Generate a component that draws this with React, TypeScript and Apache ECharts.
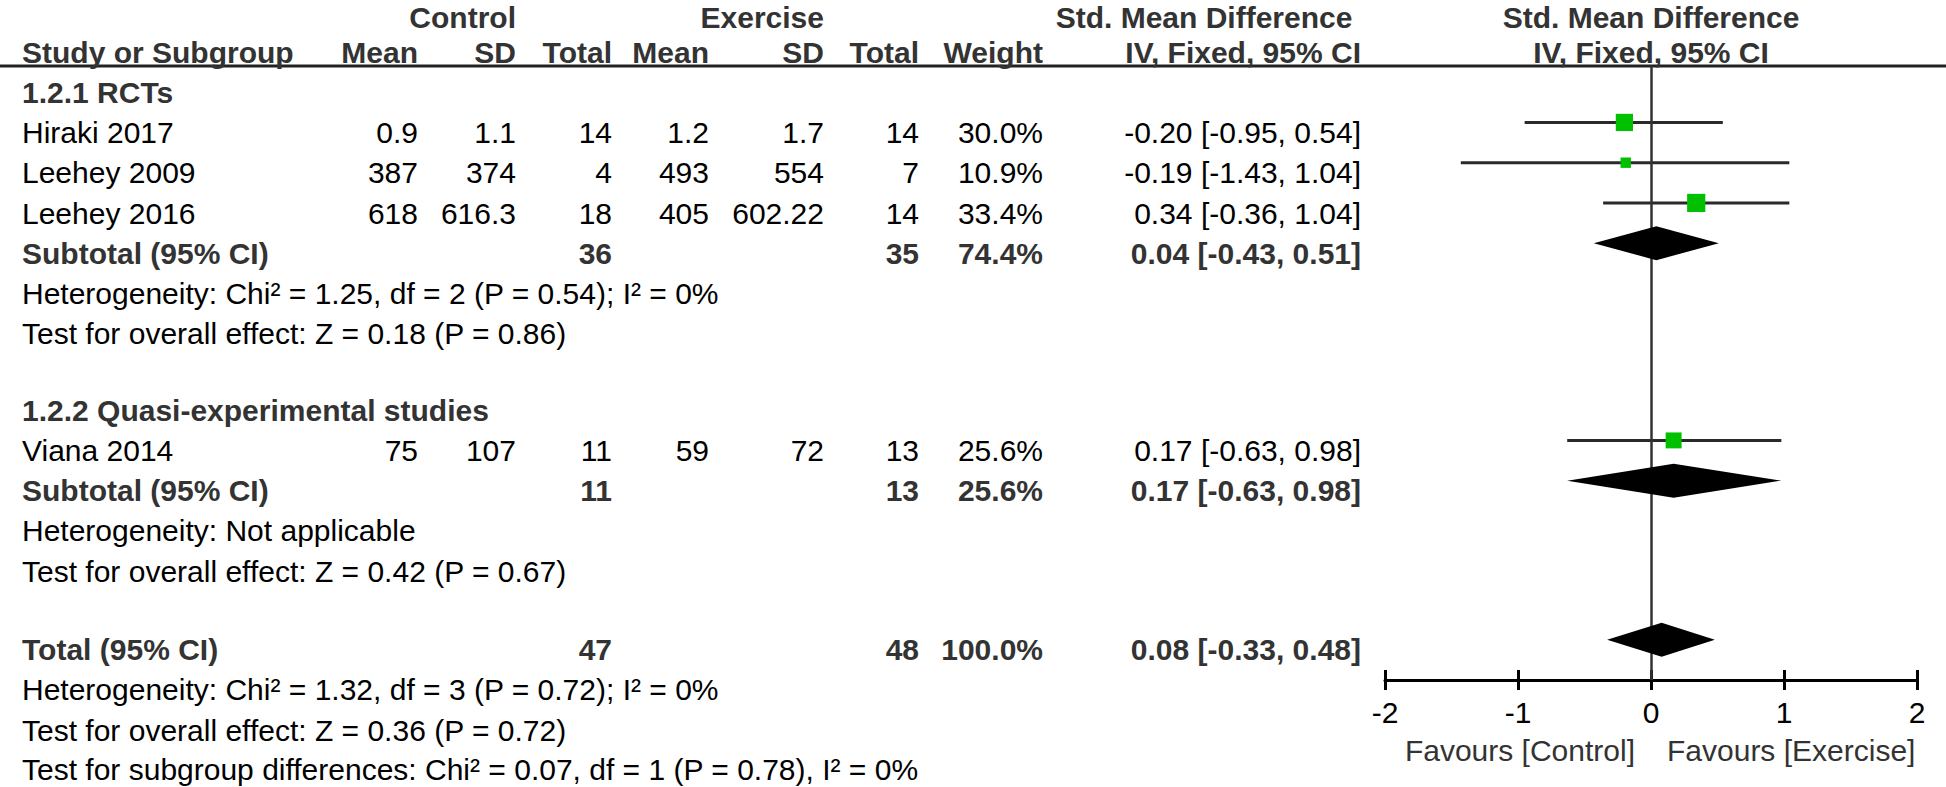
import React, { useEffect, useRef } from "react";
import * as echarts from "echarts";

// ---------------- data ----------------
const studies = ["Hiraki 2017", "Leehey 2009", "Leehey 2016", "Viana 2014"];
const ctrlMean = ["0.9", "387", "618", "75"];
const ctrlSD = ["1.1", "374", "616.3", "107"];
const ctrlN = [14, 4, 18, 11];
const exMean = ["1.2", "493", "405", "59"];
const exSD = ["1.7", "554", "602.22", "72"];
const exN = [14, 7, 14, 13];
const weights = [30.0, 10.9, 33.4, 25.6];
const smd = [-0.2, -0.19, 0.34, 0.17];
const ciLow = [-0.95, -1.43, -0.36, -0.63];
const ciHigh = [0.54, 1.04, 1.04, 0.98];

const pooledNames = ["Subtotal (95% CI)", "Subtotal (95% CI)", "Total (95% CI)"];
const pooledCtrlN = [36, 11, 47];
const pooledExN = [35, 13, 48];
const pooledWeight = [74.4, 25.6, 100.0];
const pooledSmd = [0.04, 0.17, 0.08];
const pooledLow = [-0.43, -0.63, -0.33];
const pooledHigh = [0.51, 0.98, 0.48];

const groupTitles = ["1.2.1 RCTs", "1.2.2 Quasi-experimental studies"];
const notes = [
  "Heterogeneity: Chi² = 1.25, df = 2 (P = 0.54); I² = 0%",
  "Test for overall effect: Z = 0.18 (P = 0.86)",
  "Heterogeneity: Not applicable",
  "Test for overall effect: Z = 0.42 (P = 0.67)",
  "Heterogeneity: Chi² = 1.32, df = 3 (P = 0.72); I² = 0%",
  "Test for overall effect: Z = 0.36 (P = 0.72)",
  "Test for subgroup differences: Chi² = 0.07, df = 1 (P = 0.78), I² = 0%",
];
const topHeaders = ["Control", "Exercise", "Std. Mean Difference", "Std. Mean Difference"];
const colHeaders = ["Study or Subgroup", "Mean", "SD", "Total", "Mean", "SD", "Total", "Weight", "IV, Fixed, 95% CI", "IV, Fixed, 95% CI"];
const axisMin = -2;
const axisMax = 2;
const axisStep = 1;
const favours = ["Favours [Control]", "Favours [Exercise]"];

// ---------------- layout ----------------
const W = 1946;
const H = 787;
const P = 40.25; // line pitch (px)
const Y0 = 52; // pixel of row 0
const FONT = '"Liberation Sans", Arial, Helvetica, sans-serif';
const FS = 30;
const rowTop = -0.86;
const rowHead = 0;
const titleRows = [1, 8.9];
const studyRows = [2, 3, 4, 9.9];
const pooledRows = [5, 10.9, 14.85];
const noteRows = [6, 7, 11.9, 12.9, 15.85, 16.85, 17.82];
const favoursRow = 17.35;
const markShift = -0.25;
const cols = [22, 418, 516, 612, 709, 824, 919, 1043, 1361];
const topCols = [516, 824, 1204];
const plotLeft = 1385;
const plotWidth = 532;
const plotTop = 66;
const plotBottom = 680;
const plotCenter = plotLeft + plotWidth / 2;

type T = { x: number; row: number; text: string; align: string; bold?: boolean; color?: string };

function buildTexts(): T[] {
  const it: T[] = [];
  const B = "#333";
  it.push({ x: topCols[0], row: rowTop, text: topHeaders[0], align: "right", bold: true, color: B });
  it.push({ x: topCols[1], row: rowTop, text: topHeaders[1], align: "right", bold: true, color: B });
  it.push({ x: topCols[2], row: rowTop, text: topHeaders[2], align: "center", bold: true, color: B });
  it.push({ x: plotCenter, row: rowTop, text: topHeaders[3], align: "center", bold: true, color: B });
  colHeaders.forEach((h, i) => {
    if (i === 0) it.push({ x: cols[0], row: rowHead, text: h, align: "left", bold: true, color: B });
    else if (i < 9) it.push({ x: cols[i], row: rowHead, text: h, align: "right", bold: true, color: B });
    else it.push({ x: plotCenter, row: rowHead, text: h, align: "center", bold: true, color: B });
  });
  groupTitles.forEach((g, i) => it.push({ x: cols[0], row: titleRows[i], text: g, align: "left", bold: true, color: B }));
  studies.forEach((s, i) => {
    const r = studyRows[i];
    const vals = [
      s,
      ctrlMean[i],
      ctrlSD[i],
      String(ctrlN[i]),
      exMean[i],
      exSD[i],
      String(exN[i]),
      weights[i].toFixed(1) + "%",
      `${smd[i].toFixed(2)} [${ciLow[i].toFixed(2)}, ${ciHigh[i].toFixed(2)}]`,
    ];
    vals.forEach((v, k) => it.push({ x: cols[k], row: r, text: v, align: k === 0 ? "left" : "right", color: "#000" }));
  });
  pooledNames.forEach((s, i) => {
    const r = pooledRows[i];
    it.push({ x: cols[0], row: r, text: s, align: "left", bold: true, color: B });
    it.push({ x: cols[3], row: r, text: String(pooledCtrlN[i]), align: "right", bold: true, color: B });
    it.push({ x: cols[6], row: r, text: String(pooledExN[i]), align: "right", bold: true, color: B });
    it.push({ x: cols[7], row: r, text: pooledWeight[i].toFixed(1) + "%", align: "right", bold: true, color: B });
    it.push({
      x: cols[8],
      row: r,
      text: `${pooledSmd[i].toFixed(2)} [${pooledLow[i].toFixed(2)}, ${pooledHigh[i].toFixed(2)}]`,
      align: "right",
      bold: true,
      color: B,
    });
  });
  notes.forEach((n, i) => it.push({ x: cols[0], row: noteRows[i], text: n, align: "left", color: "#000" }));
  return it;
}

export default function App() {
  const ref = useRef<HTMLDivElement>(null);
  useEffect(() => {
    document.body.style.margin = "0";
    const chart = echarts.init(ref.current!, undefined, { renderer: "svg" });
    const texts = buildTexts();

    const option: any = {
      animation: false,
      backgroundColor: "#fff",
      grid: [
        { left: 0, top: 0, width: W, height: H },
        { left: plotLeft, top: plotTop, width: plotWidth, height: plotBottom - plotTop },
      ],
      xAxis: [
        { gridIndex: 0, type: "value", min: 0, max: W, show: false },
        {
          gridIndex: 1,
          type: "value",
          min: axisMin,
          max: axisMax,
          interval: axisStep,
          position: "bottom",
          axisLine: { show: true, onZero: false, lineStyle: { color: "#000", width: 3 } },
          axisTick: { show: true, length: 10, lineStyle: { color: "#000", width: 3 } },
          axisLabel: { color: "#000", fontSize: FS, fontFamily: FONT, margin: 17 },
          splitLine: { show: false },
        },
        {
          gridIndex: 1,
          type: "value",
          min: axisMin,
          max: axisMax,
          interval: axisStep,
          position: "bottom",
          offset: 0,
          axisLine: { show: false },
          axisTick: { show: true, inside: true, length: 10, lineStyle: { color: "#000", width: 3 } },
          axisLabel: { show: false },
          splitLine: { show: false },
        },
      ],
      yAxis: [
        { gridIndex: 0, type: "value", inverse: true, min: -Y0 / P, max: (H - Y0) / P, show: false },
        {
          gridIndex: 1,
          type: "value",
          inverse: true,
          min: (plotTop - Y0) / P,
          max: (plotBottom - Y0) / P,
          show: false,
        },
      ],
      graphic: [
        {
          type: "line",
          shape: { x1: 0, y1: plotTop, x2: W, y2: plotTop },
          style: { stroke: "#222", lineWidth: 3 },
        },
      ],
      series: [
        {
          type: "custom",
          xAxisIndex: 0,
          yAxisIndex: 0,
          data: texts.map((t) => [t.x, t.row]),
          renderItem: (params: any, api: any) => {
            const t = texts[params.dataIndex];
            const p = api.coord([t.x, t.row]);
            return {
              type: "text",
              x: p[0],
              y: p[1],
              style: {
                text: t.text,
                align: t.align,
                verticalAlign: "middle",
                font: `${t.bold ? "bold " : ""}${FS}px ${FONT}`,
                fill: t.color,
              },
            };
          },
          z: 5,
        },
        {
          type: "custom",
          xAxisIndex: 1,
          yAxisIndex: 1,
          data: studies.map((_, i) => [ciLow[i], ciHigh[i], studyRows[i] + markShift]),
          renderItem: (params: any, api: any) => {
            const a = api.coord([api.value(0), api.value(2)]);
            const b = api.coord([api.value(1), api.value(2)]);
            return {
              type: "line",
              shape: { x1: a[0], y1: a[1], x2: b[0], y2: b[1] },
              style: { stroke: "#2a2a2a", lineWidth: 3 },
            };
          },
          z: 3,
        },
        {
          type: "scatter",
          xAxisIndex: 1,
          yAxisIndex: 1,
          symbol: "rect",
          data: studies.map((_, i) => ({ value: [smd[i], studyRows[i] + markShift], symbolSize: 3.15 * Math.sqrt(weights[i]) })),
          itemStyle: { color: "#00C000", opacity: 1 },
          z: 6,
          markLine: {
            silent: true,
            symbol: "none",
            label: { show: false },
            lineStyle: { color: "#333", width: 2.5, type: "solid" },
            data: [{ xAxis: 0 }],
          },
        },
        {
          type: "custom",
          xAxisIndex: 1,
          yAxisIndex: 1,
          data: pooledRows.map((r, i) => [pooledLow[i], pooledSmd[i], pooledHigh[i], r + markShift]),
          renderItem: (params: any, api: any) => {
            const y = api.value(3);
            const l = api.coord([api.value(0), y]);
            const m = api.coord([api.value(1), y]);
            const h = api.coord([api.value(2), y]);
            const hh = 17;
            return {
              type: "polygon",
              shape: { points: [[l[0], l[1]], [m[0], m[1] - hh], [h[0], h[1]], [m[0], m[1] + hh]] },
              style: { fill: "#000" },
            };
          },
          z: 7,
        },
        {
          type: "custom",
          xAxisIndex: 1,
          yAxisIndex: 1,
          clip: false,
          data: favours.map((_, i) => [0, favoursRow, i]),
          renderItem: (params: any, api: any) => {
            const i = params.dataIndex;
            const p = api.coord([api.value(0), api.value(1)]);
            return {
              type: "text",
              x: p[0] + (i === 0 ? -16 : 16),
              y: p[1],
              style: {
                text: favours[i],
                align: i === 0 ? "right" : "left",
                verticalAlign: "middle",
                font: `${FS}px ${FONT}`,
                fill: "#333",
              },
            };
          },
        },
      ],
    };
    chart.setOption(option);
    return () => chart.dispose();
  }, []);
  return <div ref={ref} style={{ width: W, height: H }} />;
}
